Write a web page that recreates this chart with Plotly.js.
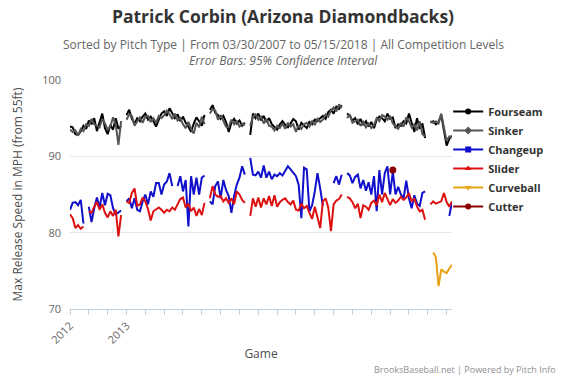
<!DOCTYPE html>
<html>
<head>
<meta charset="utf-8">
<script src="https://cdn.plot.ly/plotly-3.0.1.min.js"></script>
<style>html,body{margin:0;padding:0;background:#fff}#chart{width:566px;height:377px}</style>
</head>
<body>
<div id="chart"></div>
<script>
// x axis tick labels (one tick every 7 games)
const tickLabels = ['2012','','','2013','','','','','','','','','','','','','','','','',''];

const fourseam = [
 93.9,93.8,92.9,92.8,93.3,94.0,93.6,94.7,94.2,95.0,93.3,94.4,95.6,93.7,92.9,94.1,93.5,95.0,93.6,94.0,
 null,
 95.4,96.1,94.9,94.3,95.0,94.6,95.2,95.6,94.8,95.2,94.6,93.9,94.8,95.6,95.9,95.3,96.3,95.6,95.0,95.5,94.6,95.2,94.4,93.9,93.2,94.3,95.1,94.6,94.0,95.4,
 null,
 96.1,96.7,95.7,95.4,94.9,95.3,94.5,93.2,94.4,94.9,94.3,94.7,94.0,94.4,
 null,
 92.8,95.6,95.0,95.6,94.7,95.3,94.5,95.0,94.2,93.9,93.5,94.2,94.6,94.1,93.8,94.3,94.9,94.6,93.5,94.4,94.0,93.7,94.5,94.2,94.8,94.6,95.0,95.3,94.9,95.8,96.1,95.6,96.5,96.2,96.7,
 null,
 95.6,95.3,94.7,95.0,94.2,94.9,94.1,94.6,93.9,94.5,93.7,94.8,95.2,95.0,94.6,95.6,94.9,95.1,93.7,94.2,94.0,94.6,94.3,95.6,94.4,93.2,95.0,93.6,94.3,92.4,
 null,
 94.4,94.6,94.2,94.5,95.4,93.2,91.4,92.3,92.7
];
const sinker = [
 93.5,93.2,93.4,92.7,93.6,93.3,94.2,94.0,94.9,94.2,94.0,93.8,94.9,94.3,93.5,93.9,95.1,94.2,91.5,94.6,
 null,
 94.8,95.5,95.3,94.0,94.6,95.1,94.4,95.2,95.3,94.5,95.0,94.4,95.3,95.0,95.4,96.0,95.5,94.9,95.6,94.7,95.0,94.2,93.7,94.5,93.6,93.0,94.4,93.8,95.2,94.2,
 null,
 95.6,96.2,96.0,94.8,95.4,94.6,93.9,93.8,94.8,94.2,94.6,93.9,94.3,94.1,
 null,
 94.0,95.2,95.5,94.8,95.2,94.3,94.9,94.0,93.9,93.4,94.0,93.7,94.3,93.6,94.4,93.9,94.2,93.2,94.1,93.6,94.2,94.4,93.9,94.6,94.1,95.0,94.5,94.8,95.5,95.2,96.0,96.4,95.9,96.8,96.3,
 null,
 95.0,95.5,94.4,94.6,94.8,94.0,94.5,93.8,94.3,93.7,94.1,95.0,94.6,95.4,95.2,94.8,95.3,94.3,94.0,93.6,94.4,93.9,95.1,94.6,93.8,94.2,93.4,94.6,92.9,92.6,
 null,
 94.6,94.4,94.6,94.3,95.6,93.6,92.0,92.6,92.5
];
const changeup = [
 83.0,83.9,84.0,83.6,84.3,81.2,
 null,
 83.4,81.4,83.2,84.6,83.3,85.2,83.6,85.1,84.9,83.2,82.4,82.7,82.9,
 null,
 84.1,84.5,83.2,84.5,83.0,82.8,84.1,85.0,83.7,85.4,84.7,86.5,86.5,85.0,86.3,86.7,87.8,86.1,null,86.1,87.4,85.4,86.9,80.8,87.4,85.0,87.2,85.0,87.2,87.5,
 null,
 84.1,83.7,86.1,86.7,84.5,86.9,85.6,84.8,82.6,84.8,86.3,87.2,88.7,87.6,
 null,
 89.8,87.6,87.5,88.0,87.2,88.8,87.2,88.0,87.0,87.6,87.4,87.8,87.5,88.2,88.7,88.3,87.9,87.4,86.3,81.9,88.5,88.3,82.8,83.6,85.4,87.8,85.8,83.5,null,null,null,86.5,87.4,86.3,87.6,
 null,
 87.8,87.5,86.5,87.3,87.6,85.8,86.9,85.5,86.6,85.0,87.4,82.8,88.2,85.0,87.8,88.7,85.0,88.0,85.0,86.0,85.0,84.5,86.8,84.5,83.2,84.9,83.8,83.5,85.2,85.4,
 null,null,null,null,null,null,null,null,
 82.2,84.0
];
const slider = [
 82.4,81.9,80.6,81.0,80.5,80.8,
 null,
 82.8,82.6,83.4,84.0,83.0,83.7,82.6,82.0,82.8,82.2,83.0,79.5,82.3,
 null,
 84.1,83.9,85.2,85.8,83.5,83.7,84.6,84.1,83.1,81.6,82.8,83.0,83.3,83.0,82.6,83.0,82.8,83.3,83.0,83.7,84.4,84.6,83.3,83.8,82.8,83.3,82.2,83.1,82.3,83.9,
 null,
 84.5,86.1,85.0,84.7,84.8,84.1,84.5,83.9,84.5,83.7,85.4,85.0,84.3,83.9,
 null,
 82.2,84.5,83.4,84.6,83.3,84.5,83.7,84.8,83.5,84.9,83.4,84.0,84.3,84.5,84.0,83.7,84.2,83.0,82.9,83.8,83.2,83.5,82.6,81.8,83.4,81.9,80.6,84.1,84.5,83.3,80.2,83.7,84.2,84.4,85.0,
 null,
 84.7,84.5,84.0,83.2,83.8,81.9,83.6,83.4,83.0,83.9,84.2,83.6,85.0,84.0,85.2,84.3,83.6,84.4,83.9,84.2,84.7,84.3,84.6,85.2,84.1,84.5,83.4,82.8,83.0,81.7,
 null,
 83.7,84.1,83.8,84.0,84.1,85.2,84.0,83.4,84.1
];
const curveballGames = [136,137,138,139,140,141,142,143];
const curveball = [77.4,76.8,73.0,75.2,74.9,74.7,75.3,75.8];
const cutterGames = [121];
const cutter = [88.2];

const games = fourseam.map((_, i) => i + 1);
const tickVals = tickLabels.map((_, i) => 1 + i * 7);

const series = [
  {name:'Fourseam', y:fourseam, x:games, color:'#000000', symbol:'circle'},
  {name:'Sinker', y:sinker, x:games, color:'#555555', symbol:'diamond'},
  {name:'Changeup', y:changeup, x:games, color:'#1010CC', symbol:'square'},
  {name:'Slider', y:slider, x:games, color:'#DD1111', symbol:'triangle-up'},
  {name:'Curveball', y:curveball, x:curveballGames, color:'#E8A317', symbol:'triangle-down'}
];

const traces = [];
series.forEach(s => {
  traces.push({type:'scatter', mode:'lines', x:s.x, y:s.y, name:s.name, showlegend:false,
    line:{color:s.color, width:2}, connectgaps:false, hoverinfo:'skip'});
});
traces.push({type:'scatter', mode:'markers', x:cutterGames, y:cutter, name:'Cutter', showlegend:false,
  marker:{color:'#8B0000', size:7, symbol:'circle'}});
series.forEach(s => {
  traces.push({type:'scatter', mode:'lines+markers', x:[null], y:[null], name:s.name,
    line:{color:s.color, width:2}, marker:{color:s.color, size:6, symbol:s.symbol}});
});
traces.push({type:'scatter', mode:'lines+markers', x:[null], y:[null], name:'Cutter',
  line:{color:'#8B0000', width:2}, marker:{color:'#8B0000', size:6, symbol:'circle'}});

const FONT = 'Open Sans, DejaVu Sans, sans-serif';
const layout = {
  width:566, height:377,
  margin:{l:70, r:114, t:80, b:68, autoexpand:false},
  paper_bgcolor:'#ffffff', plot_bgcolor:'#ffffff',
  font:{family:FONT, color:'#666666', size:11},
  title:{text:'Patrick Corbin (Arizona Diamondbacks)', x:0.5, xanchor:'center', xref:'container',
    yref:'container', y:1-17/377, yanchor:'middle',
    font:{family:FONT, size:17.5, color:'#333333', weight:'bold'}},
  xaxis:{range:[1,143], tickmode:'array', tickvals:tickVals, ticktext:tickLabels,
    tickangle:-45, ticks:'outside', ticklen:5, tickcolor:'#C0D0E0', tickwidth:1,
    showline:true, linecolor:'#C0D0E0', linewidth:1, showgrid:false, zeroline:false,
    tickfont:{size:11, color:'#666666'},
    title:{text:'Game', font:{size:12, color:'#4d4d4d'}, standoff:4}},
  yaxis:{range:[70,100], tickmode:'array', tickvals:[70,80,90,100], ticks:'',
    showline:false, zeroline:false, gridcolor:'#E6E6E6', gridwidth:1,
    ticklabelstandoff:8,
    tickfont:{size:11, color:'#666666'},
    title:{text:'Max Release Speed in MPH (from 55ft)', font:{size:12, color:'#4d4d4d'}, standoff:16}},
  legend:{x:0.99, xanchor:'left', y:0.655, yanchor:'middle', bgcolor:'rgba(0,0,0,0)',
    font:{family:FONT, size:11, color:'#333333', weight:'bold'}, itemwidth:30},
  showlegend:true,
  annotations:[
    {text:'Sorted by Pitch Type | From 03/30/2007 to 05/15/2018 | All Competition Levels',
      xref:'paper', yref:'paper', x:(283-70)/382, y:(309-45)/229, xanchor:'center', yanchor:'middle',
      showarrow:false, font:{family:FONT, size:12, color:'#666666'}},
    {text:'<i>Error Bars: 95% Confidence Interval</i>',
      xref:'paper', yref:'paper', x:(283-70)/382, y:(309-60)/229, xanchor:'center', yanchor:'middle',
      showarrow:false, font:{family:FONT, size:12, color:'#666666'}},
    {text:'BrooksBaseball.net | Powered by Pitch Info',
      xref:'paper', yref:'paper', x:(558-70)/382, y:(309-369)/229, xanchor:'right', yanchor:'middle',
      showarrow:false, font:{family:FONT, size:9, color:'#909090'}}
  ]
};

Plotly.newPlot('chart', traces, layout, {displayModeBar:false, staticPlot:true});
</script>
</body>
</html>
